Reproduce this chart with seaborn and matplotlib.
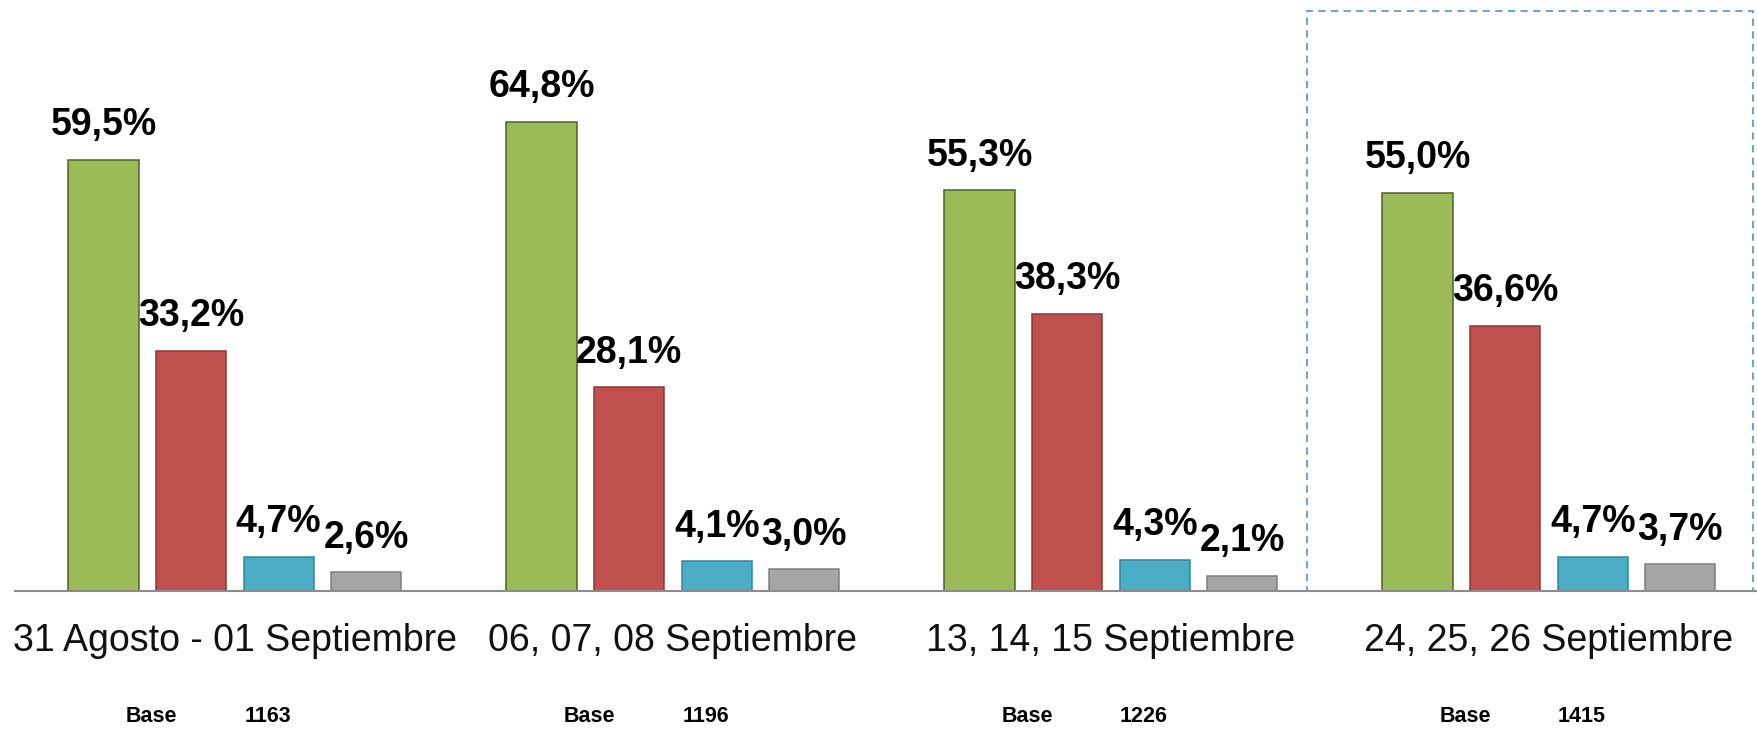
import numpy as np
import pandas as pd
import seaborn as sns
from matplotlib import pyplot as plt
from matplotlib.patches import Rectangle

# Datos
periodos = ['31 Agosto - 01 Septiembre', '06, 07, 08 Septiembre',
            '13, 14, 15 Septiembre', '24, 25, 26 Septiembre']
bases = [1163, 1196, 1226, 1415]
series = ['R1', 'R2', 'R3', 'R4']
verde = [59.5, 64.8, 55.3, 55.0]
rojo = [33.2, 28.1, 38.3, 36.6]
azul = [4.7, 4.1, 4.3, 4.7]
gris = [2.6, 3.0, 2.1, 3.7]

# Formato long
df = pd.DataFrame({'periodo': periodos * 4,
                   'serie': np.repeat(series, 4),
                   'valor': verde + rojo + azul + gris})

# Cores
cores = ['#9BBB59', '#C0504D', '#4BACC6', '#A5A5A5']
bordas = ['#4F6228', '#8C3836', '#31859C', '#7F7F7F']

sns.set_theme(style='white')
plt.rcParams['font.family'] = ['Liberation Sans', 'DejaVu Sans']

fig = plt.figure(figsize=(17.57, 7.29), dpi=100)
ax = fig.add_axes([15 / 1757, 138 / 729, 1 - 15 / 1757, 591 / 729])

sns.barplot(data=df, x='periodo', y='valor', hue='serie', order=periodos,
            hue_order=series, palette=cores, saturation=1, width=0.8, gap=0.2,
            errorbar=None, legend=False, ax=ax)

for cont, borda in zip(ax.containers, bordas):
    for p in cont:
        p.set_edgecolor(borda)
        p.set_linewidth(1.1)
    rot = [f'{v:.1f}%'.replace('.', ',') for v in cont.datavalues]
    ax.bar_label(cont, labels=rot, padding=12, fontsize=27, fontweight='bold',
                 color='black')

ax.set_xlim(-0.502, 3.475)
ax.set_ylim(0, 81.6)
ax.set_xlabel('')
ax.set_ylabel('')
ax.set_yticks([])
sns.despine(ax=ax, left=True, right=True, top=True)
ax.spines['bottom'].set_color('#8C8C8C')
ax.spines['bottom'].set_linewidth(1.5)
ax.tick_params(axis='x', length=0, pad=23)
for lab in ax.get_xticklabels():
    lab.set_fontsize(27)
    lab.set_color('#111111')

# Bases
trans = ax.get_xaxis_transform()
for i, b in enumerate(bases):
    ax.text(i - 0.19, -0.213, 'Base', transform=trans, ha='center', va='center',
            fontsize=15.5, fontweight='bold', color='black')
    ax.text(i + 0.075, -0.213, str(b), transform=trans, ha='center', va='center',
            fontsize=15.5, fontweight='bold', color='black')

# Destaque do ultimo periodo
ax.add_patch(Rectangle((2.447, 0), 1.02, 80.1, fill=False, edgecolor='#5B9BD5',
                       linestyle=(0, (4, 3)), linewidth=1.3, clip_on=False))

plt.savefig('out.png', dpi=100)
plt.close()
